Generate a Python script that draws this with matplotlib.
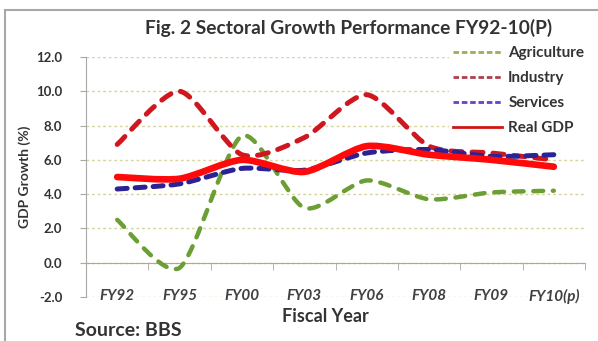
import matplotlib
matplotlib.use('Agg')
import matplotlib.pyplot as plt
from matplotlib.path import Path
from matplotlib.patches import PathPatch, Rectangle
from matplotlib.lines import Line2D

years = ['FY92', 'FY95', 'FY00', 'FY03', 'FY06', 'FY08', 'FY09', 'FY10(p)']
agriculture = [2.5, -0.3, 7.4, 3.2, 4.8, 3.7, 4.1, 4.2]
industry = [6.9, 10.0, 6.3, 7.3, 9.8, 6.8, 6.4, 6.0]
services = [4.3, 4.6, 5.5, 5.4, 6.4, 6.6, 6.2, 6.3]
real_gdp = [5.0, 4.9, 6.0, 5.3, 6.8, 6.3, 6.0, 5.6]
yticks = [-2, 0, 2, 4, 6, 8, 10, 12]

plt.rcParams['font.family'] = ['Lato', 'DejaVu Sans']
text_col = '#333333'


def smooth_line(ax, xs, ys, k=8, **kw):
    # excel style smoothed line, bezier through the data points
    n = len(xs)
    verts = [(xs[0], ys[0])]
    codes = [Path.MOVETO]
    for i in range(n - 1):
        a = i - 1 if i > 0 else i
        b = i + 2 if i + 2 < n else i + 1
        c1 = (xs[i] + (xs[i + 1] - xs[a]) / k, ys[i] + (ys[i + 1] - ys[a]) / k)
        c2 = (xs[i + 1] - (xs[b] - xs[i]) / k, ys[i + 1] - (ys[b] - ys[i]) / k)
        verts += [c1, c2, (xs[i + 1], ys[i + 1])]
        codes += [Path.CURVE4] * 3
    patch = PathPatch(Path(verts, codes), fill=False, transform=ax.transData, **kw)
    ax.add_patch(patch)
    return patch


fig = plt.figure(figsize=(5.98, 3.41), dpi=100)
fig.patches.append(Rectangle((5 / 598, -0.01), 1.0, 1 - 10 / 341 + 0.01, transform=fig.transFigure,
                             fill=False, edgecolor='#a8a8a8', lw=1.5))
ax = fig.add_axes([86 / 598, 1 - 297 / 341, (585 - 86) / 598, (297 - 57) / 341])

x = list(range(len(years)))
ax.set_xlim(-0.5, len(years) - 0.5)
ax.set_ylim(-2, 12)

for v in yticks:
    ax.axhline(v, color='#d8d49c', lw=1, ls=(0, (2, 2)), zorder=0)

smooth_line(ax, x, agriculture, edgecolor='#6b9e35', lw=3.2, linestyle=(0, (2.2, 2.2)),
            capstyle='round', zorder=3)
smooth_line(ax, x, industry, edgecolor='#d0161e', lw=3.6, linestyle=(0, (2.2, 2.0)),
            capstyle='round', zorder=3)
smooth_line(ax, x, services, edgecolor='#2b2296', lw=3.6, linestyle=(0, (2.0, 1.6)),
            capstyle='round', zorder=4)
smooth_line(ax, x, real_gdp, edgecolor='#ff0a0a', lw=4.8, capstyle='round', zorder=5)

ax.spines['top'].set_visible(False)
ax.spines['right'].set_visible(False)
ax.spines['bottom'].set_position(('data', 0))
ax.spines['left'].set_color('#a8a8a8')
ax.spines['bottom'].set_color('#a8a8a8')

ax.set_yticks(yticks)
ax.set_yticklabels(['%.1f' % v for v in yticks])
ax.tick_params(axis='y', length=4, color='#a8a8a8', labelsize=9.5, labelcolor=text_col, pad=13)
for t in ax.get_yticklabels():
    t.set_fontweight('bold')

ax.set_xticks(x)
ax.set_xticklabels(years, fontsize=11, style='italic', fontweight='bold', color='#404040')
ax.set_xticks([i + 0.5 for i in range(-1, len(years))], minor=True)
ax.tick_params(axis='x', which='major', length=0, pad=19)
ax.tick_params(axis='x', which='minor', length=5, color='#a8a8a8')

ax.set_ylabel('GDP Growth (%)', fontsize=10, fontweight='bold', color=text_col, labelpad=4)
fig.text(325 / 598, 1 - 317 / 341, 'Fiscal Year', ha='center', va='center',
         fontsize=13, fontweight='bold', color=text_col)
fig.text(75 / 598, 1 - 330 / 341, 'Source: BBS', ha='left', va='center',
         fontsize=14, fontweight='bold', color=text_col)
fig.text(349 / 598, 1 - 28 / 341, 'Fig. 2 Sectoral Growth Performance FY92-10(P)', ha='center',
         va='center', fontsize=13.8, fontweight='bold', color=text_col)

handles = [
    Line2D([], [], color='#a4a85a', lw=2, ls=(0, (2, 1))),
    Line2D([], [], color='#b0404e', lw=2, ls=(0, (2, 1))),
    Line2D([], [], color='#6a40c8', lw=2, ls=(0, (2, 1))),
    Line2D([], [], color='#d01515', lw=2),
]
leg = ax.legend(handles, ['Agriculture', 'Industry', 'Services', 'Real GDP'],
                loc='upper left', bbox_to_anchor=(441 / 598, 1 - 34 / 341),
                bbox_transform=fig.transFigure, frameon=True, facecolor='white',
                edgecolor='none', framealpha=1, fancybox=False, fontsize=11,
                handlelength=3.2, handletextpad=0.4, labelspacing=0.72, borderpad=0.3)
for t in leg.get_texts():
    t.set_fontweight('bold')
    t.set_color(text_col)
leg.set_zorder(10)

fig.savefig('out.png', dpi=100)
